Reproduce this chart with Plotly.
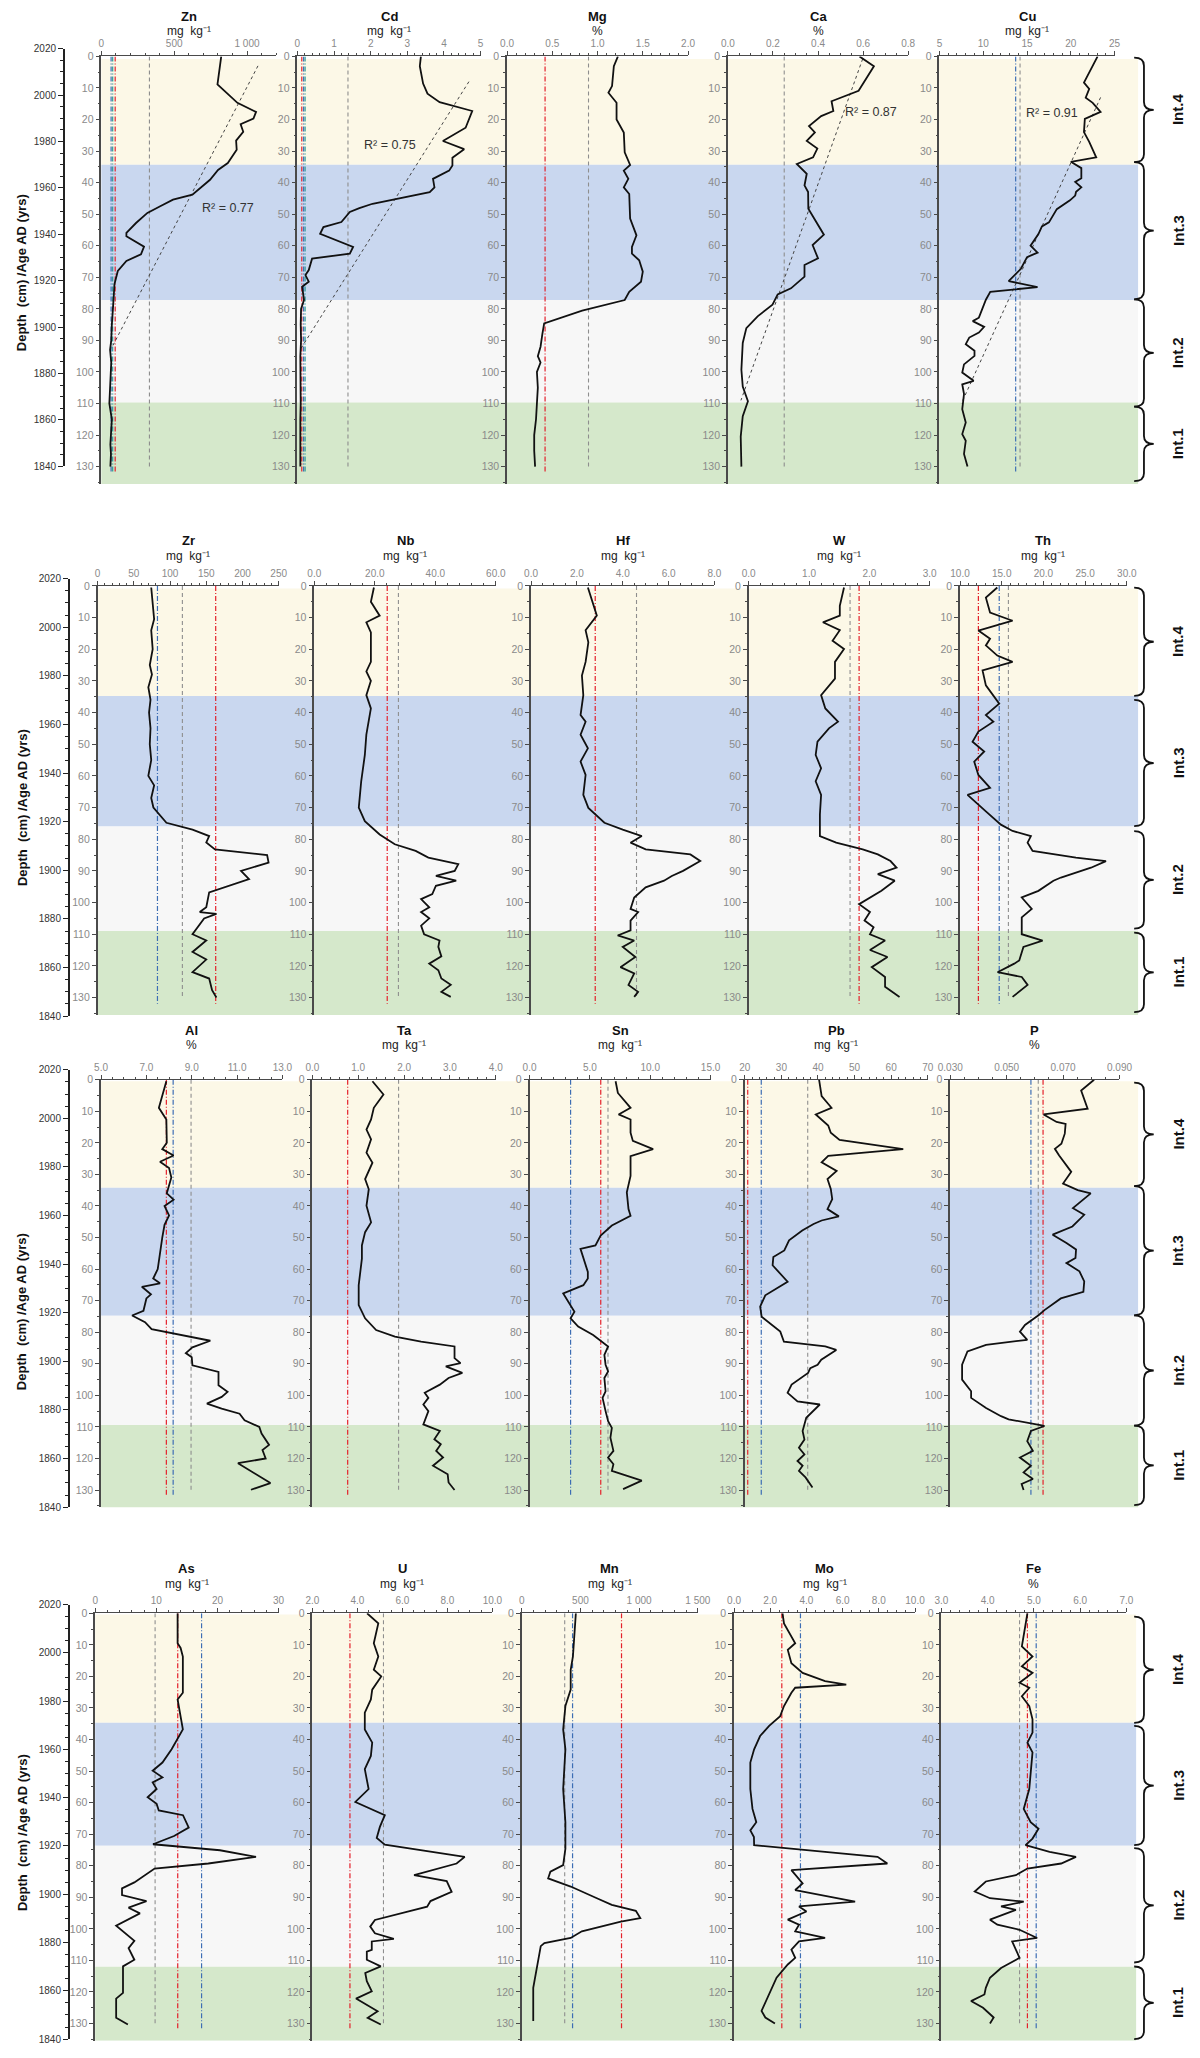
import plotly.graph_objects as go

W, H = 1200, 2058
FONT = "Liberation Sans, Arial, sans-serif"

# ------------------------------------------------------------------ data
ZN_D = [0, 8.9, 14.7, 17.6, 19.7, 21.5, 23.9, 26.7, 29.6, 33.8, 36, 39.1, 43.8, 45.4, 47.5, 49.6, 52.8, 55.9, 57,
        60.3, 62.7, 64.8, 68, 72.2, 76.9, 80, 85, 90, 93, 97, 100, 105, 110, 115, 120, 123, 126, 130]
ZN_V = [823, 797, 934, 1062, 1044, 956, 974, 925, 929, 868, 801, 746, 625, 492, 404, 316, 238, 172, 172,
        293, 272, 172, 113, 90, 84, 78, 72, 68, 60, 68, 65, 62, 55, 72, 68, 62, 66, 62]

CD_D = [0, 3.1, 8.6, 11.8, 14.5, 17.3, 22.6, 26.8, 29.4, 32.1, 34.6, 36.2, 38.8, 41.5, 43, 46.7, 48.1, 49.3, 52.5,
        54.1, 56.2, 58.3, 60.4, 62.5, 64.1, 67.7, 69.3, 71.4, 73, 77.2, 80, 85, 90, 95, 100, 105, 110, 115, 120,
        125, 130]
CD_V = [3.37, 3.34, 3.43, 3.55, 3.88, 4.77, 4.59, 3.97, 4.55, 4.23, 4.23, 4.14, 3.70, 3.74, 3.61, 2.05, 1.69, 1.43,
        1.2, 0.71, 0.62, 1.07, 1.52, 1.43, 0.4, 0.31, 0.22, 0.31, 0.13, 0.18, 0.1, 0.09, 0.1, 0.08, 0.09, 0.08, 0.09,
        0.08, 0.09, 0.08, 0.08]

MG_D = [0, 3.1, 9.4, 11.5, 14.7, 20, 24.1, 30.4, 34.4, 36.2, 38.8, 41.5, 43.6, 51.4, 56.7, 60.4, 62.5, 64.6, 68.2,
        71.4, 74.6, 77.2, 80.6, 84.6, 88, 92, 95, 97, 100, 105, 110, 115, 120, 125, 130]
MG_V = [1.225, 1.18, 1.16, 1.12, 1.21, 1.21, 1.29, 1.30, 1.36, 1.29, 1.34, 1.29, 1.35, 1.36, 1.43, 1.38, 1.38, 1.46,
        1.5, 1.48, 1.35, 1.30, 0.83, 0.41, 0.39, 0.37, 0.34, 0.37, 0.33, 0.34, 0.33, 0.32, 0.30, 0.30, 0.31]

CA_D = [0, 3.1, 10.9, 12.6, 14.2, 17.3, 18.9, 22.1, 24.1, 26.8, 29.2, 32, 34.1, 37.2, 40.9, 43, 48.3, 56.5, 59.8,
        64, 66.1, 69.8, 73.5, 75.4, 78.7, 82.4, 86.1, 90.8, 99.3, 104.6, 109.3, 114, 120.5, 130]
CA_V = [0.584, 0.648, 0.58, 0.522, 0.46, 0.468, 0.414, 0.36, 0.386, 0.35, 0.397, 0.378, 0.306, 0.35, 0.34, 0.356,
        0.357, 0.426, 0.376, 0.40, 0.34, 0.34, 0.28, 0.221, 0.198, 0.132, 0.082, 0.066, 0.06, 0.066, 0.089, 0.066,
        0.057, 0.06]

CU_D = [0, 8.3, 10.3, 13.1, 14.7, 17.6, 19.8, 24, 27.1, 32, 33.4, 35.4, 38.6, 39.8, 41.5, 42.9, 44.1, 45.6, 48.4,
        52.6, 53.9, 56.3, 60, 62.2, 63.6, 67.3, 71.2, 73.1, 74.6, 77.1, 82.8, 83.9, 85.7, 87.5, 89.1, 91.2, 93.3,
        94.9, 97.6, 100.2, 102.8, 103.9, 107, 111.8, 116, 119.7, 121.8, 126, 130]
CU_V = [23.06, 21.5, 22.1, 21.7, 22.5, 23.4, 21.6, 21.5, 22.1, 22.9, 20.0, 21.2, 21.2, 20.5, 21.2, 20.6, 20.5, 19.9,
        18.4, 17.5, 16.7, 16.3, 15.4, 16.2, 15.0, 14.3, 12.9, 16.2, 10.8, 10.3, 9.5, 8.8, 10.1, 9.5, 8.4, 8.0, 9.0,
        9.0, 7.8, 7.6, 8.9, 7.6, 7.8, 7.6, 8.0, 7.6, 8.0, 7.8, 8.2]

ZR_D = [0.5, 5, 10.5, 14, 20, 25, 28, 32, 36, 40, 45, 50, 55, 60, 63, 67, 70, 74.8, 77, 79, 81, 83.2, 85, 87.4, 90,
        92.6, 96.8, 101.5, 103, 103.6, 105, 110, 112, 115.6, 118, 122, 124, 127.7, 130]
ZR_V = [74, 76, 78, 74, 76, 72, 75, 70, 73, 71, 73, 72, 74, 70, 78, 74, 77, 95, 131, 154, 150, 162, 234, 236, 198,
        209, 154, 150, 141, 164, 147, 131, 150, 131, 150, 131, 154, 158, 164]

NB_D = [0.5, 5, 9.4, 11.5, 14.7, 24, 27, 30, 34.5, 38.7, 47, 53.4, 61.7, 70, 74.3, 78.5, 81.6, 83.7, 85.8, 87.9, 90,
        91.6, 93.1, 94.7, 97.3, 98.9, 101.5, 103, 105, 107.3, 110, 112, 114, 117, 119.3, 121.4, 124, 126, 128.2,
        129.8]
NB_V = [19.7, 18.7, 21.6, 17.2, 18.7, 18.7, 17.2, 18.7, 17.2, 18.7, 17.2, 16.7, 15.5, 14.7, 16.7, 21.6, 26.6, 33.5,
        37.7, 47.6, 46.4, 40.2, 46.9, 40.2, 39.0, 35.3, 38.0, 35.3, 38.0, 35.3, 36.3, 41.4, 41.0, 42.0, 38.0, 41.0,
        42.0, 45.1, 42.0, 45.1]

HF_D = [0.5, 9.4, 14, 17.8, 24, 28.3, 34.5, 40.8, 42.9, 47, 51.3, 55.5, 59.7, 66, 70.1, 74.8, 77, 79, 81.1, 83.2,
        84.8, 86.9, 90, 91.6, 93.1, 95.2, 98.4, 102, 103, 105.7, 108.8, 110.4, 112, 114, 117.2, 120.4, 122.4, 126,
        128.2, 129.8]
HF_V = [2.48, 2.87, 2.38, 2.5, 2.38, 2.22, 2.28, 2.16, 2.38, 2.16, 2.48, 2.16, 2.38, 2.28, 2.5, 3.2, 4.0, 4.83, 4.34,
        5.0, 6.95, 7.38, 6.63, 6.14, 5.8, 5.0, 4.5, 4.34, 4.67, 4.34, 4.34, 3.78, 4.5, 4.0, 4.55, 3.9, 4.5, 4.25,
        4.67, 4.5]

W_D = [0.5, 6.3, 9.4, 11.5, 14, 17.3, 19.9, 24, 29.3, 34.5, 38.7, 42.9, 45, 49.2, 53.4, 57.6, 61.7, 66, 72.2, 79,
       81.1, 83.2, 84.8, 86.9, 89, 91, 93.1, 96.3, 100.5, 103, 105.7, 107.8, 110, 112, 115, 117.2, 120.4, 123.5,
       126.6, 129.8]
W_V = [1.58, 1.51, 1.51, 1.23, 1.51, 1.39, 1.58, 1.43, 1.43, 1.20, 1.27, 1.48, 1.33, 1.14, 1.11, 1.20, 1.11, 1.20,
       1.18, 1.18, 1.45, 1.89, 2.14, 2.35, 2.45, 2.14, 2.42, 2.2, 1.83, 2.01, 1.92, 2.07, 2.01, 2.26, 2.01, 2.30,
       2.04, 2.26, 2.26, 2.5]

TH_D = [0.5, 3.7, 8.4, 11, 14.1, 16.7, 18.8, 22, 24, 26.7, 31.4, 34.5, 37.2, 40.8, 42.9, 46, 49.2, 52.3, 55.5, 59.7,
        63.8, 66, 69, 71.2, 75.4, 77.4, 79, 81.1, 83.7, 85.8, 86.9, 89, 92.1, 93.1, 96.3, 98.4, 102, 104.7, 110, 112,
        114, 118.3, 119.3, 122, 123.5, 126, 129.8]
TH_V = [14.47, 13.1, 13.6, 16.3, 12.2, 13.6, 13.1, 14.47, 16.3, 12.7, 13.1, 14.0, 14.7, 13.1, 14.0, 12.2, 11.5, 12.9,
        11.7, 12.2, 13.6, 10.9, 12.1, 13.1, 14.9, 16.3, 18.5, 18.1, 18.7, 23.9, 27.5, 25.7, 22.1, 21.2, 19.4, 17.4,
        18.6, 17.4, 17.4, 19.9, 17.6, 17.1, 16.5, 14.5, 17.4, 18.1, 16.3]

AL_D = [0.5, 8.9, 12.6, 20, 22, 24, 26, 28, 31, 34, 36, 38, 40, 43, 46, 50, 55, 60, 63, 64.5, 65.6, 68, 69.3, 73.2,
        74.7, 76.8, 79, 82.7, 84.8, 86.6, 87.9, 90.5, 92.6, 96.8, 98.9, 100.5, 102.6, 104.2, 105.8, 107.9, 110,
        112.1, 115.7, 117.3, 120, 121.5, 127.8, 129.9]
AL_V = [7.88, 7.55, 7.88, 7.9, 7.7, 8.2, 7.6, 8.0, 8.1, 8.0, 7.9, 8.2, 7.8, 8.0, 7.8, 7.7, 7.6, 7.5, 7.3, 7.6, 6.8,
        7.2, 7.0, 6.87, 6.37, 6.94, 7.23, 9.82, 9.03, 8.74, 9.0, 9.03, 10.18, 10.18, 10.58, 10.32, 9.67, 10.32,
        11.11, 11.33, 11.98, 12.08, 12.41, 12.12, 12.26, 11.04, 12.47, 11.61]

TA_D = [0.5, 4.7, 8.9, 12.6, 15.8, 18.9, 23.1, 26.3, 31.5, 34.7, 39.9, 45.2, 48.3, 52.5, 56.7, 65.1, 71.4, 75.6,
        79.3, 81.4, 83, 84.5, 88.2, 89.8, 90.8, 92.9, 94.5, 96.6, 99.2, 100.8, 102.9, 105, 109.2, 111.3, 113.9,
        115.5, 117.6, 119.7, 122.3, 125, 127.6, 130]
TA_V = [1.31, 1.55, 1.34, 1.28, 1.18, 1.28, 1.18, 1.31, 1.15, 1.23, 1.18, 1.28, 1.15, 1.08, 1.08, 1.01, 1.01, 1.15,
        1.39, 1.80, 2.37, 3.10, 3.10, 3.23, 2.91, 3.27, 2.97, 2.78, 2.45, 2.53, 2.42, 2.53, 2.42, 2.78, 2.66, 2.8,
        2.7, 2.85, 2.63, 2.95, 2.97, 3.10]

SN_D = [0.5, 4.2, 8.9, 11, 12.6, 16.8, 19.4, 22, 24.2, 30.5, 35.7, 41, 43.1, 46.2, 49.4, 52.5, 53.6, 56.7, 60.9, 63,
        65.1, 67.7, 70.4, 73.5, 75.6, 78.2, 80.9, 84.5, 87.2, 90.3, 92.4, 94.5, 98.7, 100.8, 105, 108.2, 110.3,
        113.4, 117.6, 119.7, 121.8, 123.9, 127, 129.7]
SN_V = [7.13, 7.32, 8.37, 7.38, 8.37, 8.37, 8.56, 10.24, 8.37, 8.37, 8.06, 8.2, 8.37, 6.82, 5.89, 5.46, 4.22, 4.46,
        4.83, 4.83, 4.46, 2.79, 3.22, 3.72, 3.4, 4.03, 5.27, 6.51, 6.2, 6.3, 6.51, 6.2, 6.3, 6.05, 6.3, 6.51, 6.82,
        6.7, 6.95, 6.51, 6.95, 6.82, 9.3, 7.75]

PB_D = [0, 5.2, 8.9, 11, 14.5, 16.8, 19.1, 22, 24.1, 26.2, 28.9, 31.5, 34.6, 37.8, 41, 43.3, 44.6, 45.7, 47.8, 50.9,
        54.1, 56.2, 58.8, 64, 68.3, 71.9, 75.1, 79.8, 83, 84.5, 85.6, 88.7, 90.3, 91.4, 92.9, 96.6, 99.2, 101.9,
        102.9, 107.1, 111.3, 114, 116.6, 118.7, 120.8, 122.3, 123.9, 126, 129.2]
PB_V = [40.3, 41, 43.7, 39.4, 42.8, 43.5, 45.9, 63.3, 42.8, 41, 45.1, 42.6, 43.5, 43.9, 42.6, 45.7, 41, 38.8, 35.7,
        32.1, 30.8, 27.8, 27.6, 31.7, 25.6, 24.2, 24.6, 29.7, 30.7, 42, 45.0, 40.9, 39.9, 37.9, 37.3, 32.8, 31.7,
        34.4, 40.5, 36.8, 35.8, 36.3, 34.8, 36.3, 34.4, 35.8, 34.8, 36.6, 38.5]

P_D = [0, 3.4, 9.2, 11, 13.4, 14, 17.1, 20.3, 21.9, 24, 29.2, 32.9, 35, 36, 40.7, 42.8, 46.5, 49.1, 51.7, 53.8,
       56.5, 58.1, 60.7, 63.9, 67.2, 69.3, 73, 74.6, 77.7, 79.8, 82.4, 84, 86.1, 90.3, 95, 98.7, 100.8, 104, 106.6,
       107.6, 109.7, 111.3, 114.5, 117.6, 119.7, 122.3, 124.4, 126.5, 128.1, 130]
P_V = [0.0810, 0.0764, 0.0787, 0.0631, 0.0677, 0.0709, 0.0706, 0.0694, 0.0671, 0.0686, 0.0729, 0.0700, 0.0752,
       0.0798, 0.0735, 0.0775, 0.0733, 0.0663, 0.0712, 0.0746, 0.0744, 0.0712, 0.0758, 0.0775, 0.0772, 0.0692,
       0.0634, 0.0613, 0.0565, 0.0547, 0.0573, 0.0427, 0.0361, 0.0342, 0.0342, 0.0374, 0.0374, 0.0427, 0.0480,
       0.0507, 0.0634, 0.0586, 0.0573, 0.0593, 0.0547, 0.0586, 0.0560, 0.0593, 0.0553, 0.0560]

AS_D = [0, 9.5, 11, 13.7, 25.2, 27.3, 36.8, 41, 43.1, 47.3, 49.9, 52, 53.6, 55.7, 58.3, 60.4, 62.5, 64, 67.9, 70.6,
        73.2, 75.1, 77.2, 79.3, 80.9, 85.3, 87.2, 89.3, 91.2, 93.3, 95.1, 99, 101.9, 103.8, 106.1, 109.8, 111.9,
        120.3, 122.1, 128.2, 130.3]
AS_V = [13.48, 13.48, 13.97, 14.34, 14.34, 13.48, 14.34, 13.1, 12.5, 11.0, 9.4, 11.0, 9.4, 10.05, 8.58, 10.05, 10.4,
        14.36, 15.3, 12.9, 9.46, 20.4, 26.3, 18.5, 9.72, 6.41, 4.39, 4.39, 8.39, 5.46, 7.32, 3.43, 5.19, 6.41, 5.46,
        6.41, 4.55, 4.55, 3.43, 3.43, 5.35]

U_D = [0, 3.2, 9.5, 13.7, 17.9, 20, 24.2, 27.3, 31.5, 36.8, 41, 45.2, 49.4, 55.7, 59.8, 62.1, 64, 67.7, 71.2, 73.3,
       77.2, 79.3, 83, 84.9, 88.3, 91.2, 93, 97.2, 99.3, 101.4, 103.2, 104, 106.7, 107.2, 109.8, 111.9, 114, 116.6,
       119.8, 122.1, 125, 126.1, 128.2, 130.3]
U_V = [4.43, 4.93, 4.73, 4.93, 4.73, 5.06, 4.66, 4.6, 4.33, 4.33, 4.66, 4.6, 4.33, 4.5, 3.91, 4.64, 5.22, 5.0, 4.86,
       5.22, 8.77, 8.41, 6.52, 7.97, 8.19, 7.25, 7.1, 4.78, 4.57, 4.78, 5.62, 4.64, 4.64, 4.42, 4.42, 5.04, 4.35,
       4.42, 4.64, 3.94, 4.64, 4.9, 4.46, 5.04]

MN_D = [0, 7.4, 13.7, 17.9, 24.2, 29.4, 36.8, 43.1, 55.7, 66.2, 74.6, 79.8, 81.9, 84, 86.6, 90.3, 91.9, 92.4, 94.3,
        96.6, 97.7, 100.8, 102.9, 104.5, 105.5, 112.4, 118.7, 129.2]
MN_V = [461, 449, 436, 417, 417, 372, 353, 372, 353, 372, 372, 353, 244, 225, 417, 640, 736, 767, 972, 1010, 844,
        512, 417, 193, 162, 130, 98, 98]

MO_D = [0, 3.2, 9.5, 11.6, 15.8, 18.9, 21.5, 22.6, 23.6, 25.2, 29.4, 32.6, 35.7, 38.9, 43.1, 47.3, 55.7, 62, 66.2,
        68.8, 70.9, 73.5, 77.2, 79.3, 81.4, 85.6, 87.7, 91.4, 92.9, 94.5, 97.1, 98.7, 100.8, 102.9, 104, 106.6, 109.2,
        111.3, 115.5, 120.8, 126, 128.1, 130]
MO_V = [2.68, 2.76, 3.38, 2.97, 3.17, 3.79, 5.03, 6.2, 3.38, 3.17, 2.76, 2.55, 1.94, 1.44, 1.11, 0.9, 0.9, 1.02,
        1.23, 0.9, 1.1, 1.11, 7.93, 8.47, 3.17, 3.79, 3.38, 6.69, 3.59, 4.0, 2.97, 3.59, 3.38, 5.03, 3.59, 3.17, 3.38,
        2.97, 2.35, 1.94, 1.52, 1.73, 2.26]

FE_D = [0, 7.4, 10.5, 13.7, 16.8, 18.9, 22, 23.6, 26.3, 29.4, 33.6, 37.8, 41, 44.1, 50.4, 55.7, 62, 66.2, 68.3,
        71.4, 73.5, 75.6, 77.2, 79.3, 80.9, 83, 85, 88.2, 90.3, 91.4, 92.9, 94, 97.1, 98.7, 100.3, 102.9, 104, 106.6,
        109.2, 112.4, 115.5, 118.7, 120.8, 122.9, 125, 128.1, 130]
FE_V = [4.86, 4.78, 4.74, 4.97, 4.74, 4.97, 4.69, 4.9, 4.74, 4.9, 4.97, 4.97, 4.86, 4.97, 4.93, 4.9, 4.78, 4.93, 5.1,
        4.97, 4.82, 5.34, 5.91, 5.59, 4.86, 4.61, 3.96, 3.72, 4.05, 4.78, 4.29, 4.61, 4.05, 4.21, 4.69, 5.07, 4.53,
        4.61, 4.69, 4.29, 4.05, 3.96, 3.93, 3.64, 3.9, 4.13, 4.05]

# reference (background) values per element: (value, kind)
REFS = {
    "Zn": [(330, "gray"), (67, "blue"), (78, "teal"), (95, "red")],
    "Cd": [(1.38, "gray"), (0.12, "red"), (0.17, "blue"), (0.21, "teal")],
    "Mg": [(0.9, "gray"), (0.42, "red")],
    "Ca": [(0.25, "gray")],
    "Cu": [(14.2, "gray"), (13.7, "blue")],
    "Zr": [(117, "gray"), (82.6, "blue"), (163, "red")],
    "Nb": [(27.8, "gray"), (24.1, "red")],
    "Hf": [(4.6, "gray"), (2.8, "red")],
    "W": [(1.68, "gray"), (1.83, "red")],
    "Th": [(15.8, "gray"), (12.2, "red"), (14.7, "blue")],
    "Al": [(8.97, "gray"), (7.88, "red"), (8.18, "blue")],
    "Ta": [(1.88, "gray"), (0.77, "red")],
    "Sn": [(6.5, "gray"), (5.9, "red"), (3.4, "blue")],
    "Pb": [(37.2, "gray"), (20.8, "red"), (24.5, "blue")],
    "P": [(0.0612, "gray"), (0.0629, "red"), (0.0586, "blue")],
    "As": [(9.8, "gray"), (13.5, "red"), (17.4, "blue")],
    "U": [(5.16, "gray"), (3.67, "red")],
    "Mn": [(366, "gray"), (850, "red"), (433, "blue")],
    "Mo": [(2.64, "red"), (3.67, "blue")],
    "Fe": [(4.69, "gray"), (4.86, "red"), (5.05, "blue")],
}

# linear trend lines: (x_top, depth_top, x_bottom, depth_bottom), R2 label and its position
TRENDS = {
    "Zn": ((1075, 3), (75, 92), "R² = 0.77", (870, 48)),
    "Cd": ((4.68, 8), (0.1, 92.5), "R² = 0.75", (2.53, 28.1)),
    "Ca": ((0.598, 0.8), (0.058, 109), "R² = 0.87", (0.637, 17.6)),
    "Cu": ((23.4, 13), (7.5, 110), "R² = 0.91", (17.8, 18)),
}

# axis ranges and tick labels
AX = {
    "Zn": ([0, 1200], [0, 500, 1000], ["0", "500", "1 000"], 100),
    "Cd": ([0, 5], [0, 1, 2, 3, 4, 5], ["0", "1", "2", "3", "4", "5"], 0.2),
    "Mg": ([0, 2], [0, 0.5, 1, 1.5, 2], ["0.0", "0.5", "1.0", "1.5", "2.0"], 0.1),
    "Ca": ([0, 0.8], [0, 0.2, 0.4, 0.6, 0.8], ["0.0", "0.2", "0.4", "0.6", "0.8"], 0.05),
    "Cu": ([5, 25], [5, 10, 15, 20, 25], ["5", "10", "15", "20", "25"], 1),
    "Zr": ([0, 250], [0, 50, 100, 150, 200, 250], ["0", "50", "100", "150", "200", "250"], 10),
    "Nb": ([0, 60], [0, 20, 40, 60], ["0.0", "20.0", "40.0", "60.0"], 4),
    "Hf": ([0, 8], [0, 2, 4, 6, 8], ["0.0", "2.0", "4.0", "6.0", "8.0"], 0.5),
    "W": ([0, 3], [0, 1, 2, 3], ["0.0", "1.0", "2.0", "3.0"], 0.2),
    "Th": ([10, 30], [10, 15, 20, 25, 30], ["10.0", "15.0", "20.0", "25.0", "30.0"], 1),
    "Al": ([5, 13], [5, 7, 9, 11, 13], ["5.0", "7.0", "9.0", "11.0", "13.0"], 0.5),
    "Ta": ([0, 4], [0, 1, 2, 3, 4], ["0.0", "1.0", "2.0", "3.0", "4.0"], 0.2),
    "Sn": ([0, 15], [0, 5, 10, 15], ["0.0", "5.0", "10.0", "15.0"], 1),
    "Pb": ([20, 70], [20, 30, 40, 50, 60, 70], ["20", "30", "40", "50", "60", "70"], 2),
    "P": ([0.03, 0.09], [0.03, 0.05, 0.07, 0.09], ["0.030", "0.050", "0.070", "0.090"], 0.005),
    "As": ([0, 30], [0, 10, 20, 30], ["0", "10", "20", "30"], 2),
    "U": ([2, 10], [2, 4, 6, 8, 10], ["2.0", "4.0", "6.0", "8.0", "10.0"], 0.5),
    "Mn": ([0, 1500], [0, 500, 1000, 1500], ["0", "500", "1 000", "1 500"], 100),
    "Mo": ([0, 10], [0, 2, 4, 6, 8, 10], ["0.0", "2.0", "4.0", "6.0", "8.0", "10.0"], 0.5),
    "Fe": ([3, 7], [3, 4, 5, 6, 7], ["3.0", "4.0", "5.0", "6.0", "7.0"], 0.2),
}

MGKG = "mg  kg⁻¹"
SERIES = {
    "Zn": (ZN_D, ZN_V, MGKG), "Cd": (CD_D, CD_V, MGKG),
    "Mg": (MG_D, MG_V, "%"), "Ca": (CA_D, CA_V, "%"), "Cu": (CU_D, CU_V, MGKG),
    "Zr": (ZR_D, ZR_V, MGKG), "Nb": (NB_D, NB_V, MGKG),
    "Hf": (HF_D, HF_V, MGKG), "W": (W_D, W_V, MGKG),
    "Th": (TH_D, TH_V, MGKG),
    "Al": (AL_D, AL_V, "%"), "Ta": (TA_D, TA_V, MGKG), "Sn": (SN_D, SN_V, MGKG),
    "Pb": (PB_D, PB_V, MGKG), "P": (P_D, P_V, "%"),
    "As": (AS_D, AS_V, MGKG), "U": (U_D, U_V, MGKG),
    "Mn": (MN_D, MN_V, MGKG), "Mo": (MO_D, MO_V, MGKG),
    "Fe": (FE_D, FE_V, "%"),
}

INTERVAL_NAMES = ["Int.4", "Int.3", "Int.2", "Int.1"]
INTERVAL_COLORS = ["#FCF8E7", "#C9D7EF", "#F7F7F7", "#D5E8CB"]
# interval depth boundaries per row (cm)
INTERVAL_BOUNDS = [
    [0.8, 34.3, 77.2, 109.7, 135.5],
    [0.8, 34.8, 76.0, 109.0, 135.5],
    [0.5, 34.2, 74.8, 109.4, 135.5],
    [0.4, 34.7, 73.7, 112.0, 135.5],
]
AGE_TICKS = [1840, 1860, 1880, 1900, 1920, 1940, 1960, 1980, 2000, 2020]
DEPTH_TICKS = [0, 10, 20, 30, 40, 50, 60, 70, 80, 90, 100, 110, 120, 130]
YLABEL = "Depth  (cm) /Age AD (yrs)"

# ------------------------------------------------------------------ layout geometry (pixels)
ROWS = [
    dict(panels=["Zn", "Cd", "Mg", "Ca", "Cu"],
         xs=[(90.3, 269), (290.7, 478), (505, 690), (730.7, 915), (947, 1126)],
         y0=50.7, s=3.174, age=(43, 463), agex=52, ty=11, uy=25, ly=268, shade=(90.3, 1150),
         braces=[(52, 157), (157, 295), (295, 403), (403, 478)]),
    dict(panels=["Zr", "Nb", "Hf", "W", "Th"],
         xs=[(86.5, 271.6), (308, 493.5), (529.5, 717), (752, 937), (968, 1138.5)],
         y0=583.3, s=3.185, age=(576, 1016), agex=57, ty=538, uy=553, ly=806, shade=(86.5, 1150),
         braces=[(585, 694), (698, 825), (830, 928), (932, 1012)]),
    dict(panels=["Al", "Ta", "Sn", "Pb", "P"],
         xs=[(90, 275.4), (306, 493.5), (528, 713), (748, 935), (958, 1131)],
         y0=1080, s=3.175, age=(1070, 1510), agex=57, ty=1031, uy=1045, ly=1313, shade=(90, 1150),
         braces=[(1083, 1187), (1187, 1317), (1317, 1428), (1428, 1508)]),
    dict(panels=["As", "U", "Mn", "Mo", "Fe"],
         xs=[(84, 271.5), (306, 490), (520, 700), (737, 922), (949, 1138)],
         y0=1616.7, s=3.174, age=(1608, 2045), agex=57, ty=1572, uy=1587, ly=1837, shade=(84, 1148),
         braces=[(1620, 1727), (1730, 1850), (1853, 1968), (1972, 2045)]),
]
DEPTH_MAX = 135.5

REF_STYLE = {
    "gray": dict(color="#8E8E8E", dash="4px,3px", width=1.1),
    "red": dict(color="#E4202A", dash="5px,2px,1px,2px", width=1.2),
    "blue": dict(color="#3C6DB4", dash="5px,2px,1px,2px", width=1.2),
    "teal": dict(color="#2A9A96", dash="5px,2px,1px,2px", width=1.2),
}
TICK_GRAY = "#8A8A8A"
AXIS_DARK = "#4A4A4A"


def px(x):
    return x / W


def py(y):
    return 1 - y / H


fig = go.Figure()
layout = dict(
    width=W, height=H, margin=dict(l=0, r=0, t=0, b=0),
    paper_bgcolor="white", plot_bgcolor="rgba(0,0,0,0)",
    showlegend=False, font=dict(family=FONT, color="#333"),
)
annotations, shapes = [], []


def note(x, y, text, size, color="#111", angle=0, xref="paper", yref="paper"):
    return dict(x=x, y=y, xref=xref, yref=yref, text=text, showarrow=False, textangle=angle,
                xanchor="center", yanchor="middle", font=dict(size=size, color=color, family=FONT))


def brace_path(x0, ytop, ybot, w=20, r=8):
    xm = x0 + w * 0.5
    xt = x0 + w
    ym = (ytop + ybot) / 2
    pts = [
        f"M {px(x0)},{py(ytop)}",
        f"Q {px(xm)},{py(ytop)} {px(xm)},{py(ytop + r)}",
        f"L {px(xm)},{py(ym - r)}",
        f"Q {px(xm)},{py(ym)} {px(xt)},{py(ym)}",
        f"Q {px(xm)},{py(ym)} {px(xm)},{py(ym + r)}",
        f"L {px(xm)},{py(ybot - r)}",
        f"Q {px(xm)},{py(ybot)} {px(x0)},{py(ybot)}",
    ]
    return " ".join(pts)


k = 0
for ri, row in enumerate(ROWS):
    y0, s = row["y0"], row["s"]
    ydom = [py(y0 + DEPTH_MAX * s), py(y0)]
    first = k + 1
    first_yref = "y" if first == 1 else f"y{first}"
    first_xref = "x" if first == 1 else f"x{first}"

    for j, name in enumerate(row["panels"]):
        k += 1
        xa = "xaxis" if k == 1 else f"xaxis{k}"
        ya = "yaxis" if k == 1 else f"yaxis{k}"
        xr = "x" if k == 1 else f"x{k}"
        yr = "y" if k == 1 else f"y{k}"
        x0p, x1p = row["xs"][j]
        rng, tv, tt, minor = AX[name]
        layout[xa] = dict(
            domain=[px(x0p), px(x1p)], range=rng, anchor=yr, side="top",
            showgrid=False, zeroline=False, showline=True, linecolor=AXIS_DARK, linewidth=1,
            ticks="outside", ticklen=4, tickcolor=AXIS_DARK, tickwidth=1,
            tickmode="array", tickvals=tv, ticktext=tt,
            tickfont=dict(size=10, color=TICK_GRAY, family=FONT),
            minor=dict(tickmode="linear", tick0=rng[0], dtick=minor, ticks="outside", ticklen=2,
                       tickcolor=AXIS_DARK, tickwidth=1),
            fixedrange=True,
        )
        layout[ya] = dict(
            domain=ydom, range=[DEPTH_MAX, 0], anchor=xr, side="left",
            showgrid=False, zeroline=False, showline=True, linecolor=AXIS_DARK, linewidth=1.5,
            ticks="outside", ticklen=4, tickcolor=AXIS_DARK, tickwidth=1,
            tickmode="array", tickvals=DEPTH_TICKS, ticktext=[str(t) for t in DEPTH_TICKS],
            tickfont=dict(size=10.5, color=TICK_GRAY, family=FONT),
            minor=dict(tickmode="linear", tick0=0, dtick=5, ticks="outside", ticklen=2,
                       tickcolor=AXIS_DARK, tickwidth=1),
            fixedrange=True,
        )
        d, v, unit = SERIES[name]

        # reference lines
        for val, kind in REFS[name]:
            st = REF_STYLE[kind]
            dmax = 130.5 if kind == "gray" else 132
            fig.add_trace(go.Scatter(x=[val, val], y=[0, dmax], mode="lines", line=st,
                                     xaxis=xr, yaxis=yr, hoverinfo="skip"))
        # trend
        if name in TRENDS:
            (tx0, td0), (tx1, td1), lab, (lx, ly) = TRENDS[name]
            fig.add_trace(go.Scatter(x=[tx0, tx1], y=[td0, td1], mode="lines",
                                     line=dict(color="#444", width=1, dash="dot"),
                                     xaxis=xr, yaxis=yr, hoverinfo="skip"))
            annotations.append(note(lx, ly, lab, 12.5, "#333", xref=xr, yref=yr))
        # profile
        fig.add_trace(go.Scatter(x=v, y=d, mode="lines", line=dict(color="#111", width=1.8),
                                 xaxis=xr, yaxis=yr, hoverinfo="skip"))
        cx = (x0p + x1p) / 2
        annotations.append(note(px(cx), py(row["ty"]), f"<b>{name}</b>", 13, "#111"))
        annotations.append(note(px(cx), py(row["uy"]), unit, 12, "#222"))

    # interval shading
    b = INTERVAL_BOUNDS[ri]
    for ii in range(4):
        shapes.append(dict(type="rect", xref="paper", yref=first_yref,
                           x0=px(row["shade"][0]), x1=px(row["shade"][1]), y0=b[ii], y1=b[ii + 1],
                           fillcolor=INTERVAL_COLORS[ii], line=dict(width=0), layer="below"))
    # braces + labels
    for ii, (bt, bb) in enumerate(row["braces"]):
        shapes.append(dict(type="path", xref="paper", yref="paper", path=brace_path(1146, bt, bb),
                           line=dict(color="#111", width=1.8)))
        annotations.append(note(px(1191), py((bt + bb) / 2), f"<b>{INTERVAL_NAMES[ii]}</b>", 15,
                                "#111", angle=-90))

    # age axis
    aidx = 21 + ri
    layout[f"yaxis{aidx}"] = dict(
        domain=[py(row["age"][1]), py(row["age"][0])], range=[1840, 2020], anchor="free",
        position=px(row["agex"]), side="left",
        showgrid=False, zeroline=False, showline=True, linecolor="#222", linewidth=1.6,
        ticks="outside", ticklen=5, tickcolor="#222", tickwidth=1.2,
        tickmode="array", tickvals=AGE_TICKS, ticktext=[str(t) for t in AGE_TICKS],
        tickfont=dict(size=10, color="#333", family=FONT),
        minor=dict(tickmode="linear", tick0=1840, dtick=5, ticks="outside", ticklen=3,
                   tickcolor="#222", tickwidth=1),
        fixedrange=True,
    )
    fig.add_trace(go.Scatter(x=[], y=[], xaxis=first_xref, yaxis=f"y{aidx}", hoverinfo="skip"))

    annotations.append(note(px(9), py(row["ly"]), f"<b>{YLABEL}</b>", 13, "#111", angle=-90))

layout["annotations"] = annotations
layout["shapes"] = shapes
fig.update_layout(**layout)
fig.write_html(
    "out.html",
    config={"displayModeBar": False},
    post_script="document.body.style.margin='0';document.body.style.padding='0';"
                "document.documentElement.style.overflow='hidden';",
)
